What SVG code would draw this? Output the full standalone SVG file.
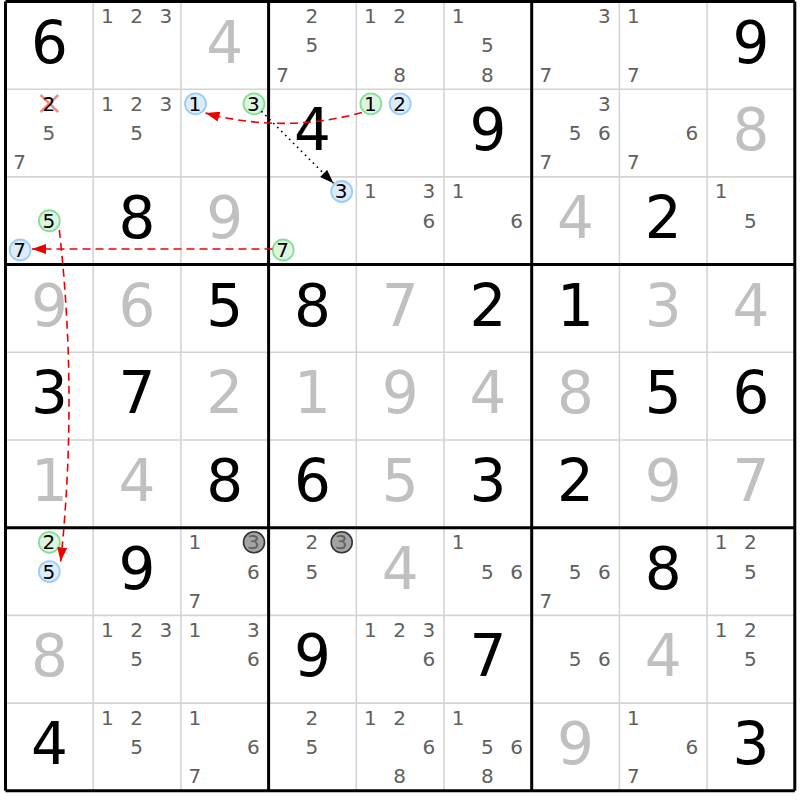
<svg xmlns="http://www.w3.org/2000/svg" width="800" height="800" viewBox="0 0 800 800">
<style>
text{font-family:"DejaVu Sans","Liberation Sans",sans-serif;text-anchor:middle}
.g{font-size:58px;fill:#000}
.s{font-size:58px;fill:#c0c0c0}
.c{font-size:20px;fill:#606060}
.k{font-size:20px;fill:#000}
.thin{stroke:#d4d4d4;stroke-width:1.6}
.thick{stroke:#000;stroke-width:3}
.cb{fill:#dcecfc;stroke:#99ccf8;stroke-width:1.8}
.cg{fill:#dcf6e0;stroke:#88dd99;stroke-width:1.8}
.cx{fill:#a4a4a4;stroke:#333;stroke-width:1.6}
.red{fill:none;stroke:#ee0000;stroke-width:1.6;stroke-dasharray:8,5}
.dot{fill:none;stroke:#000;stroke-width:1.6;stroke-dasharray:1.6,4}
</style>
<defs>
<marker id="ar" markerUnits="userSpaceOnUse" markerWidth="14" markerHeight="10" refX="14" refY="5" orient="auto"><path d="M0,0 L14,5 L0,10 z" fill="#ee0000"/></marker>
<marker id="ak" markerUnits="userSpaceOnUse" markerWidth="14" markerHeight="10" refX="14" refY="5" orient="auto"><path d="M0,0 L14,5 L0,10 z" fill="#000"/></marker>
</defs>
<rect x="0" y="0" width="800" height="800" fill="#fff"/>
<g id="grid">
<path class="thin" d="M93.2,1.5V790.8M180.9,1.5V790.8M356.3,1.5V790.8M444,1.5V790.8M619.4,1.5V790.8M707.1,1.5V790.8M5.5,89.2H794.8M5.5,176.9H794.8M5.5,352.3H794.8M5.5,440H794.8M5.5,615.4H794.8M5.5,703.1H794.8"/>
<path class="thick" d="M5.5,1.5V790.8M268.6,1.5V790.8M531.7,1.5V790.8M794.8,1.5V790.8M5.5,1.5H794.8M5.5,264.6H794.8M5.5,527.7H794.8M5.5,790.8H794.8"/>
</g>
<!-- Row 0 -->
<g id="r0c0" transform="translate(5.5,1.5)"><text class="g" x="43.85" y="61">6</text></g>
<g id="r0c1" transform="translate(93.2,1.5)"><text class="c" x="14.1" y="21.6">1</text><text class="c" x="43.35" y="21.6">2</text><text class="c" x="72.6" y="21.6">3</text></g>
<g id="r0c2" transform="translate(180.9,1.5)"><text class="s" x="43.85" y="61">4</text></g>
<g id="r0c3" transform="translate(268.6,1.5)"><text class="c" x="43.35" y="21.6">2</text><text class="c" x="43.35" y="50.85">5</text><text class="c" x="14.1" y="80.1">7</text></g>
<g id="r0c4" transform="translate(356.3,1.5)"><text class="c" x="14.1" y="21.6">1</text><text class="c" x="43.35" y="21.6">2</text><text class="c" x="43.35" y="80.1">8</text></g>
<g id="r0c5" transform="translate(444,1.5)"><text class="c" x="14.1" y="21.6">1</text><text class="c" x="43.35" y="50.85">5</text><text class="c" x="43.35" y="80.1">8</text></g>
<g id="r0c6" transform="translate(531.7,1.5)"><text class="c" x="72.6" y="21.6">3</text><text class="c" x="14.1" y="80.1">7</text></g>
<g id="r0c7" transform="translate(619.4,1.5)"><text class="c" x="14.1" y="21.6">1</text><text class="c" x="14.1" y="80.1">7</text></g>
<g id="r0c8" transform="translate(707.1,1.5)"><text class="g" x="43.85" y="61">9</text></g>
<!-- Row 1 -->
<g id="r1c0" transform="translate(5.5,89.2)"><path d="M35,5.8L52.7,22.8M52.7,5.8L35,22.8" stroke="#f07878" stroke-opacity="0.85" stroke-width="2.6" fill="none"/><text class="k" x="43.35" y="21.6">2</text><text class="c" x="43.35" y="50.85">5</text><text class="c" x="14.1" y="80.1">7</text></g>
<g id="r1c1" transform="translate(93.2,89.2)"><text class="c" x="14.1" y="21.6">1</text><text class="c" x="43.35" y="21.6">2</text><text class="c" x="72.6" y="21.6">3</text><text class="c" x="43.35" y="50.85">5</text></g>
<g id="r1c2" transform="translate(180.9,89.2)"><circle class="cb" cx="14.6" cy="14.6" r="10.5"/><text class="k" x="14.1" y="21.6">1</text><circle class="cg" cx="73.1" cy="14.6" r="10.5"/><text class="k" x="72.6" y="21.6">3</text></g>
<g id="r1c3" transform="translate(268.6,89.2)"><text class="g" x="43.85" y="61">4</text></g>
<g id="r1c4" transform="translate(356.3,89.2)"><circle class="cg" cx="14.6" cy="14.6" r="10.5"/><text class="k" x="14.1" y="21.6">1</text><circle class="cb" cx="43.85" cy="14.6" r="10.5"/><text class="k" x="43.35" y="21.6">2</text></g>
<g id="r1c5" transform="translate(444,89.2)"><text class="g" x="43.85" y="61">9</text></g>
<g id="r1c6" transform="translate(531.7,89.2)"><text class="c" x="72.6" y="21.6">3</text><text class="c" x="43.35" y="50.85">5</text><text class="c" x="72.6" y="50.85">6</text><text class="c" x="14.1" y="80.1">7</text></g>
<g id="r1c7" transform="translate(619.4,89.2)"><text class="c" x="72.6" y="50.85">6</text><text class="c" x="14.1" y="80.1">7</text></g>
<g id="r1c8" transform="translate(707.1,89.2)"><text class="s" x="43.85" y="61">8</text></g>
<!-- Row 2 -->
<g id="r2c0" transform="translate(5.5,176.9)"><circle class="cg" cx="43.85" cy="43.85" r="10.5"/><text class="k" x="43.35" y="50.85">5</text><circle class="cb" cx="14.6" cy="73.1" r="10.5"/><text class="k" x="14.1" y="80.1">7</text></g>
<g id="r2c1" transform="translate(93.2,176.9)"><text class="g" x="43.85" y="61">8</text></g>
<g id="r2c2" transform="translate(180.9,176.9)"><text class="s" x="43.85" y="61">9</text></g>
<g id="r2c3" transform="translate(268.6,176.9)"><circle class="cb" cx="73.1" cy="14.6" r="10.5"/><text class="k" x="72.6" y="21.6">3</text><circle class="cg" cx="14.6" cy="73.1" r="10.5"/><text class="k" x="14.1" y="80.1">7</text></g>
<g id="r2c4" transform="translate(356.3,176.9)"><text class="c" x="14.1" y="21.6">1</text><text class="c" x="72.6" y="21.6">3</text><text class="c" x="72.6" y="50.85">6</text></g>
<g id="r2c5" transform="translate(444,176.9)"><text class="c" x="14.1" y="21.6">1</text><text class="c" x="72.6" y="50.85">6</text></g>
<g id="r2c6" transform="translate(531.7,176.9)"><text class="s" x="43.85" y="61">4</text></g>
<g id="r2c7" transform="translate(619.4,176.9)"><text class="g" x="43.85" y="61">2</text></g>
<g id="r2c8" transform="translate(707.1,176.9)"><text class="c" x="14.1" y="21.6">1</text><text class="c" x="43.35" y="50.85">5</text></g>
<!-- Row 3 -->
<g id="r3c0" transform="translate(5.5,264.6)"><text class="s" x="43.85" y="61">9</text></g>
<g id="r3c1" transform="translate(93.2,264.6)"><text class="s" x="43.85" y="61">6</text></g>
<g id="r3c2" transform="translate(180.9,264.6)"><text class="g" x="43.85" y="61">5</text></g>
<g id="r3c3" transform="translate(268.6,264.6)"><text class="g" x="43.85" y="61">8</text></g>
<g id="r3c4" transform="translate(356.3,264.6)"><text class="s" x="43.85" y="61">7</text></g>
<g id="r3c5" transform="translate(444,264.6)"><text class="g" x="43.85" y="61">2</text></g>
<g id="r3c6" transform="translate(531.7,264.6)"><text class="g" x="43.85" y="61">1</text></g>
<g id="r3c7" transform="translate(619.4,264.6)"><text class="s" x="43.85" y="61">3</text></g>
<g id="r3c8" transform="translate(707.1,264.6)"><text class="s" x="43.85" y="61">4</text></g>
<!-- Row 4 -->
<g id="r4c0" transform="translate(5.5,352.3)"><text class="g" x="43.85" y="61">3</text></g>
<g id="r4c1" transform="translate(93.2,352.3)"><text class="g" x="43.85" y="61">7</text></g>
<g id="r4c2" transform="translate(180.9,352.3)"><text class="s" x="43.85" y="61">2</text></g>
<g id="r4c3" transform="translate(268.6,352.3)"><text class="s" x="43.85" y="61">1</text></g>
<g id="r4c4" transform="translate(356.3,352.3)"><text class="s" x="43.85" y="61">9</text></g>
<g id="r4c5" transform="translate(444,352.3)"><text class="s" x="43.85" y="61">4</text></g>
<g id="r4c6" transform="translate(531.7,352.3)"><text class="s" x="43.85" y="61">8</text></g>
<g id="r4c7" transform="translate(619.4,352.3)"><text class="g" x="43.85" y="61">5</text></g>
<g id="r4c8" transform="translate(707.1,352.3)"><text class="g" x="43.85" y="61">6</text></g>
<!-- Row 5 -->
<g id="r5c0" transform="translate(5.5,440)"><text class="s" x="43.85" y="61">1</text></g>
<g id="r5c1" transform="translate(93.2,440)"><text class="s" x="43.85" y="61">4</text></g>
<g id="r5c2" transform="translate(180.9,440)"><text class="g" x="43.85" y="61">8</text></g>
<g id="r5c3" transform="translate(268.6,440)"><text class="g" x="43.85" y="61">6</text></g>
<g id="r5c4" transform="translate(356.3,440)"><text class="s" x="43.85" y="61">5</text></g>
<g id="r5c5" transform="translate(444,440)"><text class="g" x="43.85" y="61">3</text></g>
<g id="r5c6" transform="translate(531.7,440)"><text class="g" x="43.85" y="61">2</text></g>
<g id="r5c7" transform="translate(619.4,440)"><text class="s" x="43.85" y="61">9</text></g>
<g id="r5c8" transform="translate(707.1,440)"><text class="s" x="43.85" y="61">7</text></g>
<!-- Row 6 -->
<g id="r6c0" transform="translate(5.5,527.7)"><circle class="cg" cx="43.85" cy="14.6" r="10.5"/><text class="k" x="43.35" y="21.6">2</text><circle class="cb" cx="43.85" cy="43.85" r="10.5"/><text class="k" x="43.35" y="50.85">5</text></g>
<g id="r6c1" transform="translate(93.2,527.7)"><text class="g" x="43.85" y="61">9</text></g>
<g id="r6c2" transform="translate(180.9,527.7)"><text class="c" x="14.1" y="21.6">1</text><circle class="cx" cx="73.1" cy="14.6" r="10.5"/><text class="c" x="72.6" y="21.6">3</text><text class="c" x="72.6" y="50.85">6</text><text class="c" x="14.1" y="80.1">7</text></g>
<g id="r6c3" transform="translate(268.6,527.7)"><text class="c" x="43.35" y="21.6">2</text><circle class="cx" cx="73.1" cy="14.6" r="10.5"/><text class="c" x="72.6" y="21.6">3</text><text class="c" x="43.35" y="50.85">5</text></g>
<g id="r6c4" transform="translate(356.3,527.7)"><text class="s" x="43.85" y="61">4</text></g>
<g id="r6c5" transform="translate(444,527.7)"><text class="c" x="14.1" y="21.6">1</text><text class="c" x="43.35" y="50.85">5</text><text class="c" x="72.6" y="50.85">6</text></g>
<g id="r6c6" transform="translate(531.7,527.7)"><text class="c" x="43.35" y="50.85">5</text><text class="c" x="72.6" y="50.85">6</text><text class="c" x="14.1" y="80.1">7</text></g>
<g id="r6c7" transform="translate(619.4,527.7)"><text class="g" x="43.85" y="61">8</text></g>
<g id="r6c8" transform="translate(707.1,527.7)"><text class="c" x="14.1" y="21.6">1</text><text class="c" x="43.35" y="21.6">2</text><text class="c" x="43.35" y="50.85">5</text></g>
<!-- Row 7 -->
<g id="r7c0" transform="translate(5.5,615.4)"><text class="s" x="43.85" y="61">8</text></g>
<g id="r7c1" transform="translate(93.2,615.4)"><text class="c" x="14.1" y="21.6">1</text><text class="c" x="43.35" y="21.6">2</text><text class="c" x="72.6" y="21.6">3</text><text class="c" x="43.35" y="50.85">5</text></g>
<g id="r7c2" transform="translate(180.9,615.4)"><text class="c" x="14.1" y="21.6">1</text><text class="c" x="72.6" y="21.6">3</text><text class="c" x="72.6" y="50.85">6</text></g>
<g id="r7c3" transform="translate(268.6,615.4)"><text class="g" x="43.85" y="61">9</text></g>
<g id="r7c4" transform="translate(356.3,615.4)"><text class="c" x="14.1" y="21.6">1</text><text class="c" x="43.35" y="21.6">2</text><text class="c" x="72.6" y="21.6">3</text><text class="c" x="72.6" y="50.85">6</text></g>
<g id="r7c5" transform="translate(444,615.4)"><text class="g" x="43.85" y="61">7</text></g>
<g id="r7c6" transform="translate(531.7,615.4)"><text class="c" x="43.35" y="50.85">5</text><text class="c" x="72.6" y="50.85">6</text></g>
<g id="r7c7" transform="translate(619.4,615.4)"><text class="s" x="43.85" y="61">4</text></g>
<g id="r7c8" transform="translate(707.1,615.4)"><text class="c" x="14.1" y="21.6">1</text><text class="c" x="43.35" y="21.6">2</text><text class="c" x="43.35" y="50.85">5</text></g>
<!-- Row 8 -->
<g id="r8c0" transform="translate(5.5,703.1)"><text class="g" x="43.85" y="61">4</text></g>
<g id="r8c1" transform="translate(93.2,703.1)"><text class="c" x="14.1" y="21.6">1</text><text class="c" x="43.35" y="21.6">2</text><text class="c" x="43.35" y="50.85">5</text></g>
<g id="r8c2" transform="translate(180.9,703.1)"><text class="c" x="14.1" y="21.6">1</text><text class="c" x="72.6" y="50.85">6</text><text class="c" x="14.1" y="80.1">7</text></g>
<g id="r8c3" transform="translate(268.6,703.1)"><text class="c" x="43.35" y="21.6">2</text><text class="c" x="43.35" y="50.85">5</text></g>
<g id="r8c4" transform="translate(356.3,703.1)"><text class="c" x="14.1" y="21.6">1</text><text class="c" x="43.35" y="21.6">2</text><text class="c" x="72.6" y="50.85">6</text><text class="c" x="43.35" y="80.1">8</text></g>
<g id="r8c5" transform="translate(444,703.1)"><text class="c" x="14.1" y="21.6">1</text><text class="c" x="43.35" y="50.85">5</text><text class="c" x="72.6" y="50.85">6</text><text class="c" x="43.35" y="80.1">8</text></g>
<g id="r8c6" transform="translate(531.7,703.1)"><text class="s" x="43.85" y="61">9</text></g>
<g id="r8c7" transform="translate(619.4,703.1)"><text class="c" x="14.1" y="21.6">1</text><text class="c" x="72.6" y="50.85">6</text><text class="c" x="14.1" y="80.1">7</text></g>
<g id="r8c8" transform="translate(707.1,703.1)"><text class="g" x="43.85" y="61">3</text></g>
<g id="connectors">
<path class="red" d="M362,112.5 Q283,134 205.5,113" marker-end="url(#ar)"/>
<path class="dot" d="M261.4,111.2 L333.5,183.3" marker-end="url(#ak)"/>
<path class="red" d="M272.5,249 L32,249" marker-end="url(#ar)"/>
<path class="red" d="M59.3,230 Q78,396 60.7,561.5" marker-end="url(#ar)"/>
</g>
</svg>
